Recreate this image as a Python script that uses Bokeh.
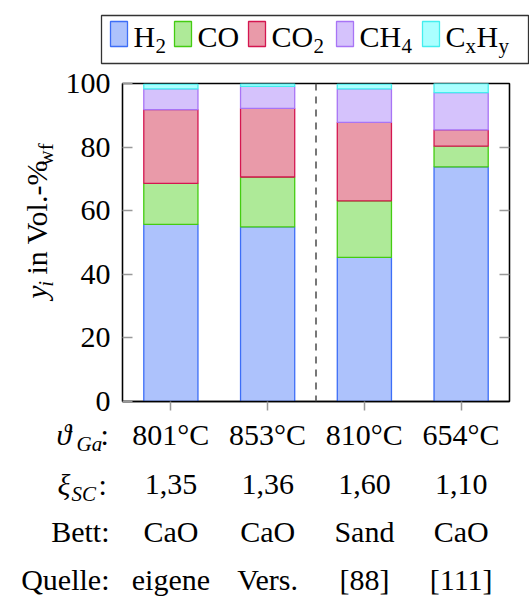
from bokeh.plotting import figure
from bokeh.models import LinearAxis, FixedTicker, Span, ColumnDataSource
from bokeh.layouts import column, row
from bokeh.core.properties import value
from bokeh.embed import file_html
from bokeh.resources import INLINE

# ---------------- data ----------------
cases = [0, 1, 2, 3]
H2 = [55.7, 54.9, 45.3, 73.8]
CO = [12.9, 15.7, 17.8, 6.5]
CO2 = [23.2, 21.6, 24.7, 5.1]
CH4 = [6.5, 6.9, 10.5, 11.7]
CxHy = [1.5, 0.8, 1.5, 2.9]

temps = ["801°C", "853°C", "810°C", "654°C"]
xis = ["1,35", "1,36", "1,60", "1,10"]
beds = ["CaO", "CaO", "Sand", "CaO"]
sources = ["eigene", "Vers.", "[88]", "[111]"]
yticks = [0, 20, 40, 60, 80, 100]

series = ["H2", "CO", "CO2", "CH4", "CxHy"]
fills = ["#adc2fc", "#aeea98", "#e99aa9", "#d5c2fc", "#aaffff"]
lines = ["#3d6ef7", "#44cc11", "#d41650", "#a874f5", "#44eeee"]

FONT = "Liberation Serif"
FSP, FSSP = 30, 21
FS = "%dpx" % FSP
SHIFT = 0.36   # empirical baseline correction (fraction of font size)

W, H = 529, 601
FL, FR, FT, FB = 122, 509, 83, 401   # frame edges (absolute px)
LEG_H = 65                            # legend strip height
MID_B = 418                           # bottom of middle strip
YL_W = 60                             # width of y-label strip


def dx(px):
    """absolute pixel x -> main chart data x"""
    return -0.5 + (px - FL) * 4.0 / (FR - FL)


def blank(width, height, x_range, y_range):
    f = figure(width=width, height=height, output_backend="svg",
               toolbar_location=None, x_range=x_range, y_range=y_range,
               x_axis_type=None, y_axis_type=None, min_border=0, title=None,
               margin=0)
    f.grid.visible = False
    f.outline_line_color = None
    f.background_fill_color = "white"
    f.border_fill_color = "white"
    return f


def txt(f, x, y, text, size=FSP, style="normal", align="left", angle=0.0):
    f.text(x=[x], y=[y], text=[text], text_font=value(FONT),
           text_font_size=value("%dpx" % size), text_font_style=style,
           text_align=align, text_baseline="alphabetic", text_color="black",
           angle=angle)


# ---------------- legend strip ----------------
leg = blank(W, LEG_H, (0, W), (0, LEG_H))
ly = lambda py, s=FSP: LEG_H - (py - SHIFT * s)
leg.quad(left=[101], right=[528], top=[LEG_H - 15], bottom=[LEG_H - 63],
         fill_color=None, line_color="#333333", line_width=1.3)
sw_left = [110, 174, 248, 336, 422]
leg.quad(left=sw_left, right=[s + 17 for s in sw_left],
         top=[LEG_H - 21] * 5, bottom=[LEG_H - 46] * 5,
         fill_color=fills, line_color=lines, line_width=1.3)
LB, SB = 47, 53
txt(leg, 133, ly(LB), "H"); txt(leg, 155, ly(SB, FSSP), "2", FSSP)
txt(leg, 197, ly(LB), "CO")
txt(leg, 271, ly(LB), "CO"); txt(leg, 313, ly(SB, FSSP), "2", FSSP)
txt(leg, 359, ly(LB), "CH"); txt(leg, 401, ly(SB, FSSP), "4", FSSP)
txt(leg, 445, ly(LB), "C"); txt(leg, 465, ly(SB, FSSP), "x", FSSP)
txt(leg, 476, ly(LB), "H"); txt(leg, 498, ly(SB, FSSP), "y", FSSP)

# ---------------- y label strip (rotated text) ----------------
MH = MID_B - LEG_H
yl = blank(YL_W, MH, (0, YL_W), (0, MH))
yy = lambda py: MID_B - py
rx = lambda px, s=FSP: px - SHIFT * s
A = 1.5707963
txt(yl, rx(47), yy(304), "y", style="italic", angle=A)
txt(yl, rx(53, FSSP), yy(290.5), "i", FSSP, style="italic", angle=A)
txt(yl, rx(47), yy(277), "in Vol.-%", angle=A)
txt(yl, rx(53, FSSP), yy(156), "wf", FSSP, angle=A)

# ---------------- main chart ----------------
p = figure(width=W - YL_W, height=MH, output_backend="svg",
           toolbar_location=None, x_range=(-0.5, 3.5), y_range=(0, 100),
           title=None, min_border_left=FL - YL_W, min_border_right=W - FR,
           min_border_top=FT - LEG_H, min_border_bottom=MID_B - FB, margin=0)
p.grid.visible = False
p.outline_line_color = "black"
p.outline_line_width = 1.3
p.background_fill_color = "white"
p.border_fill_color = "white"

src = ColumnDataSource(dict(x=cases, H2=H2, CO=CO, CO2=CO2, CH4=CH4, CxHy=CxHy))
p.vbar_stack(series, x="x", width=0.56, source=src, fill_color=fills,
             line_color=lines, line_width=1.3)

p.add_layout(Span(location=1.5, dimension="height", line_color="#555555",
                  line_width=1.6, line_dash="7 6"))

ya = p.yaxis[0]
ya.ticker = FixedTicker(ticks=yticks)
ya.major_tick_in = 10
ya.major_tick_out = 0
ya.minor_tick_line_color = None
ya.major_tick_line_color = "#999999"
ya.major_tick_line_width = 1.5
ya.axis_line_color = "black"
ya.axis_line_width = 1.3
ya.major_label_text_font = FONT
ya.major_label_text_font_size = FS
ya.major_label_text_color = "black"
ya.major_label_standoff = 12

ra = LinearAxis(ticker=FixedTicker(ticks=yticks[1:-1]), major_tick_in=10,
                major_tick_out=0, minor_tick_line_color=None,
                major_tick_line_color="#999999", major_tick_line_width=1.5,
                axis_line_color="black", axis_line_width=1.3,
                major_label_text_color=None, major_label_text_font_size="2px",
                major_label_standoff=0)
p.add_layout(ra, "right")

xa = p.xaxis[0]
xa.ticker = FixedTicker(ticks=cases)
xa.major_tick_in = 0
xa.major_tick_out = 9
xa.minor_tick_line_color = None
xa.major_tick_line_color = "#999999"
xa.major_tick_line_width = 1.5
xa.axis_line_color = "black"
xa.axis_line_width = 1.3
xa.major_label_text_color = None
xa.major_label_text_font_size = "2px"
xa.major_label_standoff = 0

# ---------------- condition table strip ----------------
TH = H - MID_B
tb = blank(W, TH, (dx(0), dx(W)), (0, TH))
ty = lambda py, s=FSP: H - (py - SHIFT * s)
rows = [temps, xis, beds, sources]
baselines = [445, 495, 542, 590]
for vals, b in zip(rows, baselines):
    tb.text(x=cases, y=[ty(b)] * len(cases), text=vals, text_font=value(FONT),
            text_font_size=value(FS), text_align="center",
            text_baseline="alphabetic", text_color="black")

txt(tb, dx(56), ty(445), "ϑ", style="italic")
txt(tb, dx(76), ty(451, FSSP), "Ga", FSSP, style="italic")
txt(tb, dx(100), ty(445), ":")
txt(tb, dx(57), ty(495), "ξ", style="italic")
txt(tb, dx(71), ty(501, FSSP), "SC", FSSP, style="italic")
txt(tb, dx(98), ty(495), ":")
txt(tb, dx(109), ty(542), "Bett:", align="right")
txt(tb, dx(109), ty(590), "Quelle:", align="right")

layout = column(leg, row(yl, p, spacing=0, margin=0), tb, spacing=0, margin=0)
open("out.html", "w").write(file_html(layout, INLINE))
